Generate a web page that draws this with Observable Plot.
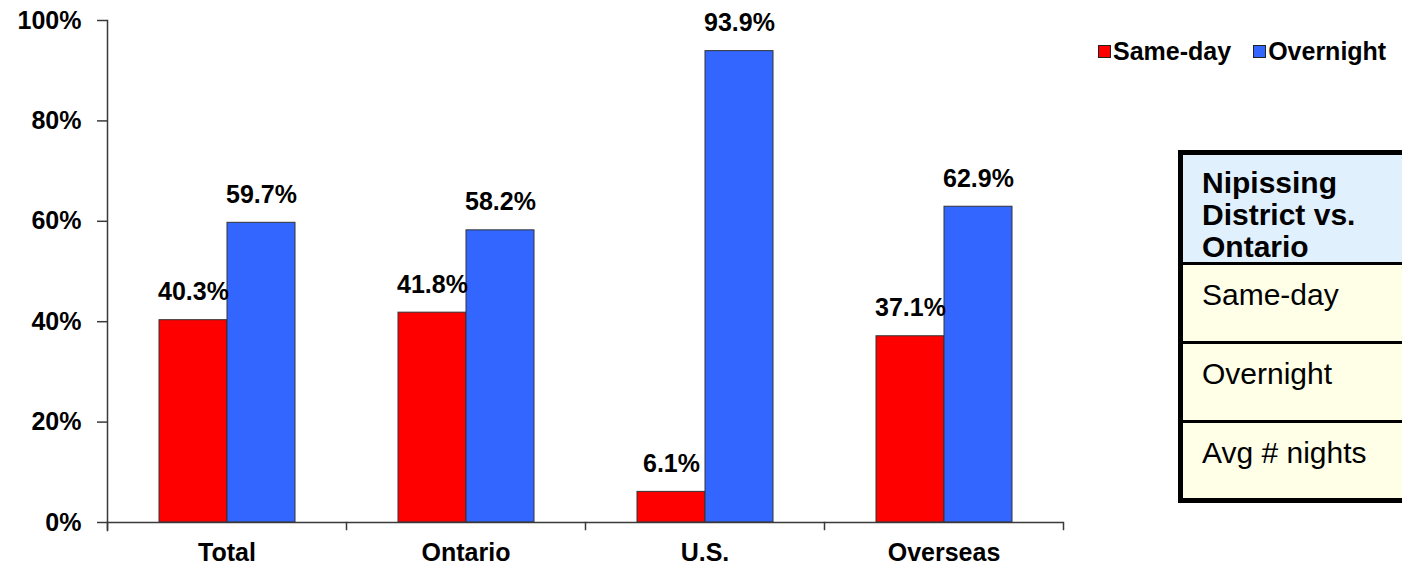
<!DOCTYPE html>
<html>
<head>
<meta charset="utf-8">
<script src="https://cdn.jsdelivr.net/npm/d3@7"></script>
<script src="https://cdn.jsdelivr.net/npm/@observablehq/plot@0.6"></script>
<style>
  html, body { margin: 0; padding: 0; background: #fff; }
  #wrap { position: relative; width: 1402px; height: 567px; overflow: hidden; font-family: "Liberation Sans", Arial, sans-serif; }
  #chart { position: absolute; left: 0; top: 0; }
  #legend { position: absolute; left: 1098px; top: 37px; width: 310px; display: flex; align-items: center; font-weight: bold; font-size: 25px; color: #000; white-space: nowrap; }
  .li { display: flex; align-items: center; margin-right: 22px; white-space: nowrap; }
  .sw { width: 11px; height: 11px; border: 1px solid #222; margin-right: 2px; flex: none; }
  #table { position: absolute; left: 1178px; top: 150px; width: 219px; height: 343px; border: 5px solid #000; box-sizing: content-box; background: #FFFFE8; }
  .cell { position: absolute; left: 0; right: 0; box-sizing: border-box; padding-left: 19px; font-size: 30px; line-height: 32px; color: #000; white-space: nowrap; }
  .hdr { background: #E0F0FD; font-weight: bold; }
  .div { position: absolute; left: 0; right: 0; height: 3px; background: #000; }
</style>
</head>
<body>
<div id="wrap">
  <div id="chart"></div>
  <div id="legend"></div>
  <div id="table"></div>
</div>
<script>
const categories = ["Total", "Ontario", "U.S.", "Overseas"];
const series = ["Same-day", "Overnight"];
const sameDay = [40.3, 41.8, 6.1, 37.1];
const overnight = [59.7, 58.2, 93.9, 62.9];
const yTicks = [0, 20, 40, 60, 80, 100];
const colors = ["#FF0000", "#3366FF"];
const tableHeader = ["Nipissing", "District vs.", "Ontario"];
const tableRows = ["Same-day", "Overnight", "Avg # nights"];

const data = [];
categories.forEach((c, i) => {
  data.push({category: c, series: series[0], value: sameDay[i]});
  data.push({category: c, series: series[1], value: overnight[i]});
});

const W = 1070, H = 567, mL = 107, mR = 7, mT = 20, mB = 45;
const innerH = H - mT - mB;
const lineColor = "#3a3a3a";
const fs = 25;

const chart = Plot.plot({
  width: W, height: H,
  marginLeft: mL, marginRight: mR, marginTop: mT, marginBottom: mB,
  style: {fontFamily: "'Liberation Sans', Arial, sans-serif", fontSize: fs + "px", fontWeight: "bold", color: "#000", background: "transparent"},
  fx: {domain: categories, padding: 0, label: null},
  x: {domain: series, paddingInner: 0, paddingOuter: 0.74, axis: null},
  y: {domain: [0, 100], label: null},
  color: {domain: series, range: colors},
  marks: [
    Plot.barY(data, {fx: "category", x: "series", y: "value", fill: "series", stroke: "#333", strokeWidth: 1}),
    Plot.text(data, {fx: "category", x: "series", y: "value", text: d => d.value.toFixed(1) + "%", dy: -28, fontSize: fs, fontWeight: "bold", fill: "#000"}),
    Plot.ruleY([0], {stroke: lineColor, strokeWidth: 1.5}),
    Plot.frame({anchor: "left", facetAnchor: "left", insetBottom: -8, stroke: lineColor, strokeWidth: 1.5}),
    Plot.frame({anchor: "left", insetTop: innerH, insetBottom: -7, stroke: lineColor, strokeWidth: 1.5}),
    Plot.frame({anchor: "right", facetAnchor: "right", insetTop: innerH, insetBottom: -7, stroke: lineColor, strokeWidth: 1.5}),
    Plot.axisY(yTicks, {tickSize: 10, tickPadding: 16, tickFormat: d => d + "%", stroke: lineColor, strokeWidth: 1.5, fill: "#000", fontSize: fs, fontWeight: "bold", label: null}),
    Plot.axisFx({anchor: "bottom", tickSize: 0, tickPadding: 21, fontSize: fs, fontWeight: "bold", fill: "#000", label: null})
  ]
});
document.getElementById("chart").appendChild(chart);

// legend
const legend = document.getElementById("legend");
series.forEach((s, i) => {
  const item = document.createElement("div");
  item.className = "li";
  const sw = document.createElement("div");
  sw.className = "sw";
  sw.style.background = colors[i];
  const t = document.createElement("span");
  t.textContent = s;
  item.appendChild(sw); item.appendChild(t);
  legend.appendChild(item);
});

// table
const table = document.getElementById("table");
const hdr = document.createElement("div");
hdr.className = "cell hdr";
hdr.style.top = "0px"; hdr.style.height = "107px"; hdr.style.paddingTop = "12px";
hdr.innerHTML = tableHeader.join("<br>");
table.appendChild(hdr);
const rowTops = [107, 186, 265];
const rowH = [79, 79, 78];
tableRows.forEach((r, i) => {
  const d = document.createElement("div");
  d.className = "div";
  d.style.top = rowTops[i] + "px";
  table.appendChild(d);
  const c = document.createElement("div");
  c.className = "cell";
  c.style.top = (rowTops[i] + 3) + "px";
  c.style.height = (rowH[i] - 3) + "px";
  c.style.paddingTop = "14px";
  c.textContent = r;
  table.appendChild(c);
});
</script>
</body>
</html>
